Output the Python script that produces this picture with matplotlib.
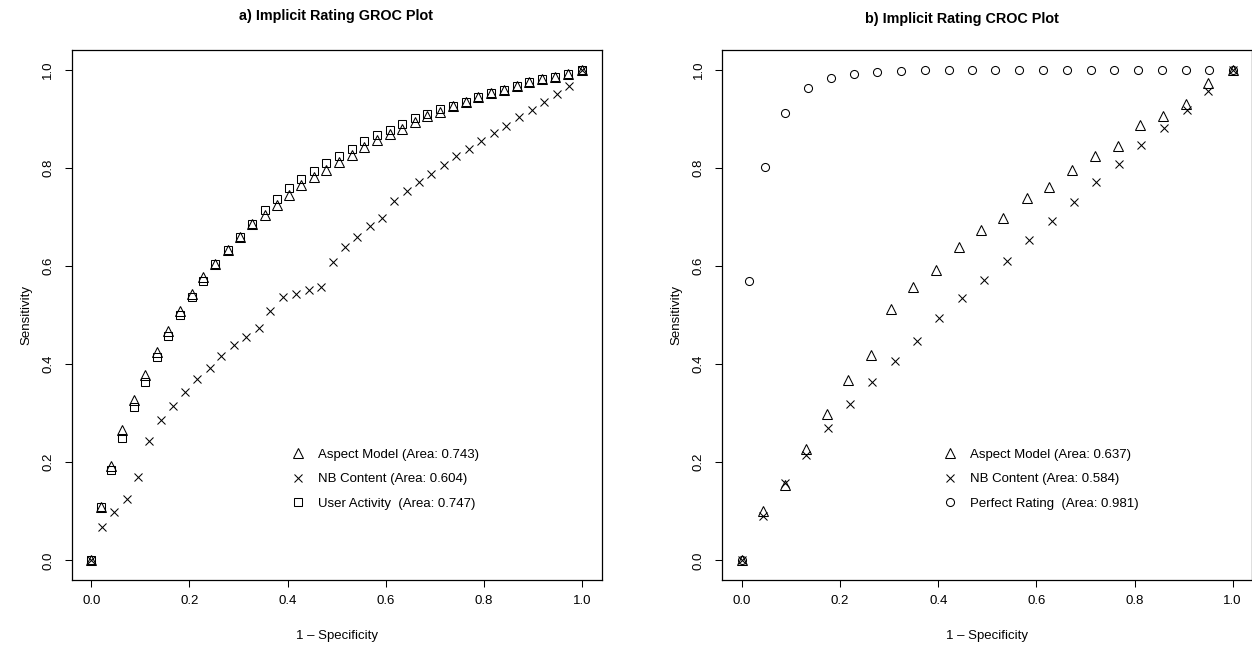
import matplotlib
matplotlib.use("Agg")
import matplotlib.pyplot as plt

plt.rcParams['font.family'] = ['Liberation Sans', 'DejaVu Sans']

# ---- a) GROC data ----
groc_x = [0.0, 0.019, 0.041, 0.062, 0.086, 0.110, 0.133, 0.156, 0.180, 0.205,
          0.228, 0.252, 0.278, 0.302, 0.328, 0.353, 0.378, 0.403, 0.428, 0.454,
          0.479, 0.505, 0.531, 0.556, 0.583, 0.608, 0.633, 0.659, 0.685, 0.711,
          0.738, 0.763, 0.788, 0.814, 0.841, 0.867, 0.892, 0.918, 0.945, 0.972, 1.0]
groc_aspect = [0.0, 0.109, 0.192, 0.265, 0.326, 0.377, 0.425, 0.468, 0.508, 0.543,
               0.577, 0.603, 0.633, 0.659, 0.686, 0.703, 0.724, 0.745, 0.764, 0.781,
               0.796, 0.812, 0.827, 0.842, 0.856, 0.868, 0.880, 0.893, 0.905, 0.914,
               0.925, 0.935, 0.944, 0.952, 0.959, 0.967, 0.974, 0.981, 0.986, 0.992, 1.0]
groc_user = [0.0, 0.109, 0.185, 0.249, 0.312, 0.363, 0.414, 0.457, 0.500, 0.537,
             0.569, 0.603, 0.633, 0.659, 0.686, 0.713, 0.736, 0.759, 0.777, 0.794,
             0.810, 0.825, 0.838, 0.854, 0.866, 0.878, 0.889, 0.902, 0.910, 0.919,
             0.925, 0.935, 0.944, 0.952, 0.959, 0.967, 0.974, 0.981, 0.986, 0.992, 1.0]
groc_nb_x = [0.0, 0.022, 0.047, 0.072, 0.095, 0.117, 0.141, 0.166, 0.190, 0.215,
             0.241, 0.265, 0.290, 0.315, 0.341, 0.365, 0.391, 0.417, 0.443, 0.469,
             0.492, 0.516, 0.541, 0.567, 0.592, 0.616, 0.643, 0.667, 0.692, 0.719,
             0.744, 0.770, 0.795, 0.821, 0.846, 0.871, 0.897, 0.923, 0.948, 0.973, 1.0]
groc_nb = [0.0, 0.068, 0.099, 0.126, 0.169, 0.244, 0.287, 0.315, 0.344, 0.370,
           0.392, 0.416, 0.438, 0.456, 0.473, 0.509, 0.537, 0.543, 0.550, 0.557,
           0.608, 0.638, 0.659, 0.681, 0.698, 0.732, 0.753, 0.771, 0.788, 0.806,
           0.823, 0.839, 0.854, 0.871, 0.886, 0.903, 0.918, 0.935, 0.951, 0.967, 1.0]

# ---- b) CROC data ----
croc_aspect_x = [0.0, 0.042, 0.087, 0.130, 0.173, 0.217, 0.262, 0.304, 0.349, 0.396,
                 0.442, 0.487, 0.532, 0.580, 0.626, 0.673, 0.719, 0.766, 0.812, 0.858,
                 0.905, 0.950, 1.0]
croc_aspect = [0.0, 0.100, 0.153, 0.226, 0.299, 0.368, 0.419, 0.513, 0.558, 0.591,
               0.638, 0.674, 0.697, 0.739, 0.761, 0.795, 0.823, 0.845, 0.888, 0.906,
               0.929, 0.973, 1.0]
croc_nb_x = [0.0, 0.042, 0.087, 0.130, 0.175, 0.221, 0.266, 0.311, 0.357, 0.402,
             0.449, 0.493, 0.540, 0.585, 0.631, 0.676, 0.722, 0.768, 0.813, 0.860,
             0.906, 0.950, 1.0]
croc_nb = [0.0, 0.091, 0.158, 0.214, 0.270, 0.319, 0.364, 0.406, 0.448, 0.493,
           0.534, 0.571, 0.611, 0.652, 0.691, 0.730, 0.771, 0.808, 0.847, 0.882,
           0.918, 0.956, 1.0]
croc_perf_x = [0.0, 0.0135, 0.0475, 0.088, 0.134, 0.181, 0.228, 0.276, 0.324, 0.373,
               0.421, 0.469, 0.516, 0.565, 0.614, 0.663, 0.711, 0.759, 0.807, 0.855,
               0.904, 0.951, 1.0]
croc_perf = [0.0, 0.570, 0.801, 0.912, 0.962, 0.983, 0.991, 0.996, 0.998, 0.9995,
             1.0, 1.0, 1.0, 1.0, 1.0, 1.0, 1.0, 1.0, 1.0, 1.0,
             1.0, 1.0, 1.0]

labels_a = ["Aspect Model (Area: 0.743)", "NB Content (Area: 0.604)",
            "User Activity  (Area: 0.747)"]
labels_b = ["Aspect Model (Area: 0.637)", "NB Content (Area: 0.584)",
            "Perfect Rating  (Area: 0.981)"]
ticks = [0.0, 0.2, 0.4, 0.6, 0.8, 1.0]

W, H = 1252, 650
fig = plt.figure(figsize=(W / 100, H / 100), dpi=100)
ax1 = fig.add_axes([71.7 / W, 1 - 580 / H, 530 / W, 530 / H])
ax2 = fig.add_axes([722.3 / W, 1 - 580 / H, 530 / W, 530 / H])

mk = dict(linestyle='none', color='black', markerfacecolor='none', markeredgewidth=0.75)

ax1.plot(groc_x, groc_aspect, marker='^', markersize=6.5, label=labels_a[0], **mk)
ax1.plot(groc_nb_x, groc_nb, marker='x', markersize=5.8, label=labels_a[1], **mk)
ax1.plot(groc_x, groc_user, marker='s', markersize=5.8, label=labels_a[2], **mk)

ax2.plot(croc_aspect_x, croc_aspect, marker='^', markersize=6.5, label=labels_b[0], **mk)
ax2.plot(croc_nb_x, croc_nb, marker='x', markersize=5.8, label=labels_b[1], **mk)
ax2.plot(croc_perf_x, croc_perf, marker='o', markersize=5.8, label=labels_b[2], **mk)

for ax, lx in [(ax1, 0.4143), (ax2, 0.417)]:
    ax.set_xlim(-0.04, 1.04)
    ax.set_ylim(-0.04, 1.04)
    ax.set_xticks(ticks)
    ax.set_yticks(ticks)
    ax.set_xticklabels(["%.1f" % t for t in ticks])
    ax.set_yticklabels(["%.1f" % t for t in ticks], rotation=90, va='center', ha='center')
    ax.tick_params(direction='out', length=5, width=0.75, labelsize=9.5)
    ax.tick_params(axis='x', pad=6)
    ax.tick_params(axis='y', pad=12)
    for s in ax.spines.values():
        s.set_linewidth(0.9)
    ax.set_xlabel("1 \u2013 Specificity", fontsize=9.5)
    ax.xaxis.set_label_coords(0.5, -0.095)
    ax.set_ylabel("Sensitivity", fontsize=9.5)
    ax.yaxis.set_label_coords(-0.075, 0.5)
    ax.legend(loc='upper left', bbox_to_anchor=(lx, 0.2477), frameon=False,
              fontsize=9.5, handlelength=1.0, handletextpad=1.0,
              borderpad=0, borderaxespad=0, labelspacing=0.93)

fig.text(336 / W, 1 - 16 / H, "a) Implicit Rating GROC Plot", ha='center', va='center',
         fontsize=10.4, fontweight='bold')
fig.text(961.5 / W, 1 - 19 / H, "b) Implicit Rating CROC Plot", ha='center', va='center',
         fontsize=10.4, fontweight='bold')

fig.savefig("out.png", dpi=100)
